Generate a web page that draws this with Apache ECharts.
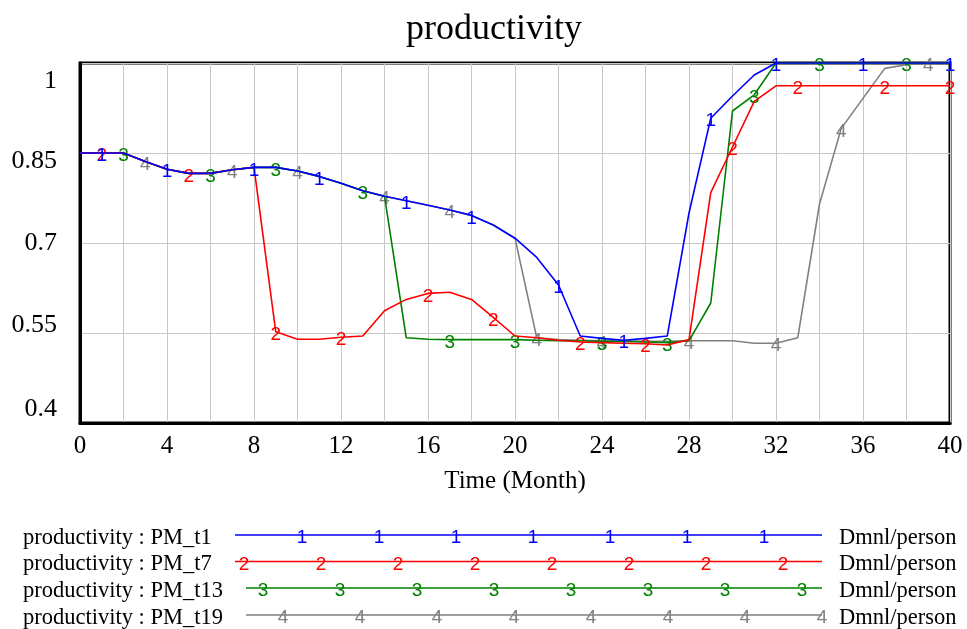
<!DOCTYPE html>
<html>
<head>
<meta charset="utf-8">
<script src="https://cdn.jsdelivr.net/npm/echarts@6/dist/echarts.min.js"></script>
<style>
  html, body { margin: 0; padding: 0; background: #ffffff; }
  #chart { width: 967px; height: 629px; }
</style>
</head>
<body>
<div id="chart"></div>
<script>
// Simulation time axis (months)
const months = [0, 1, 2, 3, 4, 5, 6, 7, 8, 9, 10, 11, 12, 13, 14, 15, 16, 17, 18, 19, 20,
  21, 22, 23, 24, 25, 26, 27, 28, 29, 30, 31, 32, 33, 34, 35, 36, 37, 38, 39, 40];

// productivity runs, one value per month
const pmT1 = [0.85, 0.85, 0.85, 0.836, 0.823, 0.816, 0.816, 0.822, 0.826, 0.826, 0.82,
  0.811, 0.7995, 0.787, 0.778, 0.7705, 0.763, 0.755, 0.746, 0.730, 0.708,
  0.676, 0.630, 0.545, 0.541, 0.538, 0.541, 0.545, 0.750, 0.908, 0.945,
  0.980, 1.0, 1.0, 1.0, 1.0, 1.0, 1.0, 1.0, 1.0, 1.0];
const pmT7 = [0.85, 0.85, 0.85, 0.836, 0.823, 0.816, 0.816, 0.822, 0.826, 0.552, 0.5395,
  0.5395, 0.543, 0.545, 0.587, 0.606, 0.616, 0.618, 0.606, 0.576, 0.545,
  0.542, 0.538, 0.535, 0.534, 0.533, 0.532, 0.530, 0.539, 0.784, 0.860,
  0.936, 0.962, 0.962, 0.962, 0.962, 0.962, 0.962, 0.962, 0.962, 0.962];
const pmT13 = [0.85, 0.85, 0.85, 0.836, 0.823, 0.816, 0.816, 0.822, 0.826, 0.826, 0.82,
  0.811, 0.7995, 0.787, 0.778, 0.542, 0.5395, 0.539, 0.539, 0.539, 0.539,
  0.538, 0.537, 0.537, 0.536, 0.536, 0.535, 0.534, 0.537, 0.600, 0.920,
  0.947, 1.0, 1.0, 1.0, 1.0, 1.0, 1.0, 1.0, 1.0, 1.0];
const pmT19 = [0.85, 0.85, 0.85, 0.836, 0.823, 0.816, 0.816, 0.822, 0.826, 0.826, 0.82,
  0.811, 0.7995, 0.787, 0.778, 0.7705, 0.763, 0.755, 0.746, 0.730, 0.708,
  0.542, 0.539, 0.538, 0.537, 0.537, 0.536, 0.536, 0.537, 0.537, 0.537,
  0.533, 0.533, 0.542, 0.765, 0.891, 0.941, 0.991, 0.997, 1.0, 1.0];

// months at which each run carries its numbered marker
const marksT1 = [1, 4, 8, 11, 15, 18, 22, 25, 29, 32, 36, 40];
const marksT7 = [1, 5, 9, 12, 16, 19, 23, 26, 30, 33, 37, 40];
const marksT13 = [2, 6, 9, 13, 17, 20, 24, 27, 31, 34, 38];
const marksT19 = [3, 7, 10, 14, 17, 21, 24, 28, 32, 35, 39];

const runNames = ['PM_t1', 'PM_t7', 'PM_t13', 'PM_t19'];
const runValues = [pmT1, pmT7, pmT13, pmT19];
const runMarks = [marksT1, marksT7, marksT13, marksT19];
const runColors = ['#0000ff', '#ff0000', '#008000', '#808080'];
const unitLabel = 'Dmnl/person';

const yTickLabels = ['0.4', '0.55', '0.7', '0.85', '1'];

const SERIF = '"Liberation Serif", "Times New Roman", serif';
const SANS = '"Liberation Sans", Arial, sans-serif';

// y labels drift toward the middle of the plot, as in the original tool
const yLabelStyle = ['u15', 'u8', 'm0', 'd8', 'd17'];
const baseRich = { fontFamily: SERIF, fontSize: 26, color: '#000' };
const yRich = {
  u15: Object.assign({ padding: [0, 0, 28, 0] }, baseRich),
  u8: Object.assign({ padding: [0, 0, 16, 0] }, baseRich),
  m0: Object.assign({}, baseRich),
  d8: Object.assign({ padding: [16, 0, 0, 0] }, baseRich),
  d17: Object.assign({ padding: [36, 0, 0, 0] }, baseRich)
};

function buildSeries(i) {
  const color = runColors[i];
  const marks = runMarks[i];
  const data = months.map((t, k) => {
    const v = runValues[i][k];
    if (marks.indexOf(t) >= 0) {
      return {
        value: [t, v],
        symbol: 'circle',
        symbolSize: 1,
        itemStyle: { color: 'rgba(0,0,0,0)' },
        label: { show: true }
      };
    }
    return { value: [t, v], symbol: 'none' };
  });
  return {
    name: runNames[i],
    type: 'line',
    data: data,
    z: 10 - i,
    showSymbol: true,
    showAllSymbol: true,
    symbol: 'none',
    lineStyle: { color: color, width: 1.6 },
    itemStyle: { color: color },
    label: {
      show: false,
      position: 'inside',
      offset: [0, 3],
      formatter: String(i + 1),
      color: color,
      fontFamily: SANS,
      fontSize: 19,
      textBorderWidth: 0
    },
    emphasis: { disabled: true },
    silent: true
  };
}

// legend block beneath the plot
const legendGraphics = [];
const rowLineY = [535, 561.5, 588, 615];
const rowMarkStart = [302, 244, 263, 283];
const rowLineStart = [235, 235, 246, 246];
runNames.forEach((name, i) => {
  const y = rowLineY[i];
  legendGraphics.push({
    type: 'text',
    style: { x: 23, y: y + 3, text: 'productivity : ' + name, fill: '#000',
      font: '22.5px ' + SERIF, align: 'left', verticalAlign: 'middle' }
  });
  legendGraphics.push({
    type: 'line',
    shape: { x1: rowLineStart[i], y1: y, x2: 822, y2: y },
    style: { stroke: runColors[i], lineWidth: 1.6 }
  });
  for (let x = rowMarkStart[i]; x <= 823; x += 77) {
    legendGraphics.push({
      type: 'text',
      style: { x: x, y: y + 3, text: String(i + 1), fill: runColors[i],
        font: '19px ' + SANS, align: 'center', verticalAlign: 'middle' }
    });
  }
  legendGraphics.push({
    type: 'text',
    style: { x: 839, y: y + 3, text: unitLabel, fill: '#000',
      font: '22.5px ' + SERIF, align: 'left', verticalAlign: 'middle' }
  });
});

const chart = echarts.init(document.getElementById('chart'), null, { renderer: 'canvas' });
chart.setOption({
  animation: false,
  backgroundColor: '#ffffff',
  title: {
    text: 'productivity',
    left: 401,
    top: 7,
    textStyle: { fontFamily: SERIF, fontSize: 36, fontWeight: 'normal', color: '#000' }
  },
  grid: {
    left: 80, right: 17, top: 63, bottom: 206,
    containLabel: false,
    outerBoundsMode: 'none',
    show: true,
    borderColor: '#000',
    borderWidth: 3,
    backgroundColor: 'transparent'
  },
  xAxis: {
    type: 'value',
    min: 0,
    max: 40,
    interval: 4,
    name: 'Time (Month)',
    nameLocation: 'middle',
    nameGap: 46,
    nameTextStyle: { fontFamily: SERIF, fontSize: 25, color: '#000' },
    axisLine: { show: true, onZero: false, lineStyle: { color: '#000', width: 3 } },
    axisTick: { show: false },
    minorTick: { show: false, splitNumber: 2 },
    splitLine: { show: true, lineStyle: { color: '#c8c8c8', width: 1 } },
    minorSplitLine: { show: true, lineStyle: { color: '#c8c8c8', width: 1 } },
    axisLabel: { fontFamily: SERIF, fontSize: 25, color: '#000', margin: 11 }
  },
  yAxis: {
    type: 'value',
    min: 0.4,
    max: 1,
    interval: 0.15,
    axisLine: { show: true, lineStyle: { color: '#000', width: 3 } },
    axisTick: { show: false },
    splitLine: { show: true, lineStyle: { color: '#c8c8c8', width: 1 } },
    axisLabel: {
      margin: 23,
      showMinLabel: true,
      showMaxLabel: true,
      fontFamily: SERIF,
      fontSize: 26,
      color: '#000',
      formatter: function (v) {
        const k = Math.round((v - 0.4) / 0.15);
        return '{' + yLabelStyle[k] + '|' + yTickLabels[k] + '}';
      },
      rich: yRich
    }
  },
  series: [0, 1, 2, 3].map(buildSeries),
  graphic: legendGraphics
});
</script>
</body>
</html>
